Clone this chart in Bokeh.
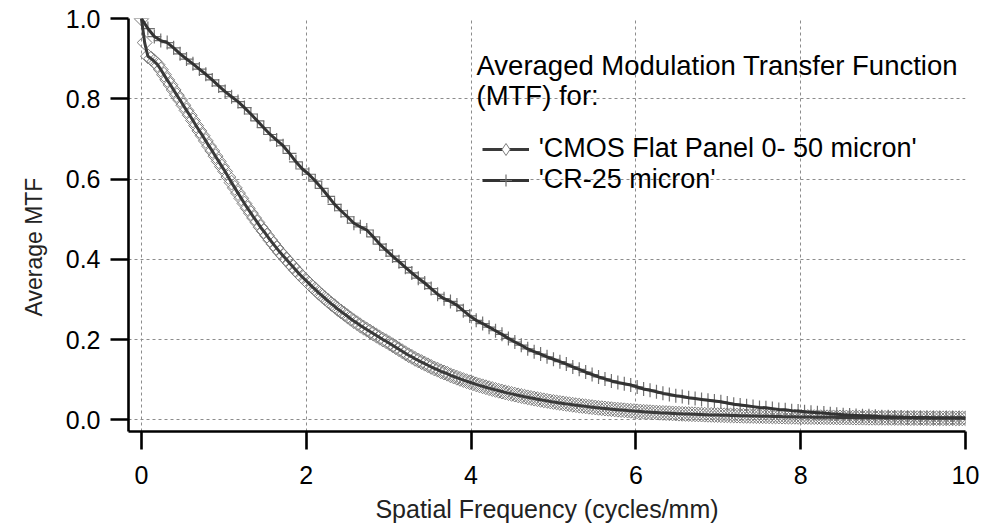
import math
from bokeh.plotting import figure
from bokeh.models import (Range1d, FixedTicker, PrintfTickFormatter, Legend, LegendItem,
                          Label, ColumnDataSource, Title)
from bokeh.embed import file_html
from bokeh.resources import INLINE

# ---------------- data ----------------
cmos_step = 0.0390625   # cycles/mm between samples (CMOS flat panel)
cr_step = 0.078125      # cycles/mm between samples (CR)

cmos_mtf = [
    1.000, 0.940, 0.906, 0.900, 0.893, 0.885, 0.873, 0.860, 0.847, 0.835,
    0.822, 0.809, 0.797, 0.784, 0.771, 0.759, 0.746, 0.733, 0.720, 0.708,
    0.695, 0.682, 0.670, 0.657, 0.644, 0.631, 0.619, 0.605, 0.591, 0.578,
    0.565, 0.552, 0.539, 0.527, 0.515, 0.503, 0.492, 0.480, 0.470, 0.459,
    0.448, 0.438, 0.428, 0.418, 0.409, 0.400, 0.391, 0.382, 0.373, 0.364,
    0.356, 0.348, 0.340, 0.332, 0.325, 0.317, 0.310, 0.303, 0.296, 0.289,
    0.283, 0.276, 0.270, 0.264, 0.258, 0.252, 0.246, 0.241, 0.235, 0.230,
    0.225, 0.220, 0.215, 0.210, 0.205, 0.200, 0.196, 0.191, 0.186, 0.181,
    0.176, 0.171, 0.166, 0.161, 0.157, 0.152, 0.148, 0.144, 0.140, 0.136,
    0.132, 0.128, 0.125, 0.121, 0.118, 0.115, 0.111, 0.108, 0.105, 0.102,
    0.0992, 0.0964, 0.0937, 0.0911, 0.0885, 0.0860, 0.0836, 0.0813, 0.0790, 0.0768,
    0.0746, 0.0725, 0.0705, 0.0685, 0.0666, 0.0647, 0.0629, 0.0611, 0.0594, 0.0577,
    0.0561, 0.0545, 0.0530, 0.0515, 0.0500, 0.0486, 0.0473, 0.0459, 0.0446, 0.0434,
    0.0422, 0.0410, 0.0398, 0.0387, 0.0376, 0.0366, 0.0355, 0.0345, 0.0336, 0.0326,
    0.0317, 0.0308, 0.0300, 0.0291, 0.0283, 0.0275, 0.0267, 0.0260, 0.0253, 0.0246,
    0.0239, 0.0232, 0.0226, 0.0219, 0.0213, 0.0207, 0.0201, 0.0196, 0.0191, 0.0186,
    0.0182, 0.0177, 0.0173, 0.0169, 0.0165, 0.0161, 0.0157, 0.0154, 0.0150, 0.0147,
    0.0144, 0.0141, 0.0138, 0.0135, 0.0132, 0.0129, 0.0126, 0.0124, 0.0121, 0.0119,
    0.0116, 0.0114, 0.0112, 0.0110, 0.0108, 0.0106, 0.0104, 0.0102, 0.0100, 0.0098,
    0.0096, 0.0094, 0.0092, 0.0090, 0.0089, 0.0087, 0.0086, 0.0084, 0.0083, 0.0081,
    0.0080, 0.0078, 0.0077, 0.0076, 0.0074, 0.0073, 0.0072, 0.0071, 0.0069, 0.0068,
    0.0067, 0.0066, 0.0065, 0.0064, 0.0063, 0.0062, 0.0061, 0.0060, 0.0059, 0.0058,
    0.0057, 0.0056, 0.0055, 0.0055, 0.0054, 0.0053, 0.0052, 0.0052, 0.0051, 0.0050,
    0.0050, 0.0049, 0.0048, 0.0048, 0.0047, 0.0047, 0.0046, 0.0045, 0.0045, 0.0044,
    0.0044, 0.0043, 0.0043, 0.0042, 0.0042, 0.0041, 0.0041, 0.0041, 0.0040, 0.0040,
    0.0039, 0.0039, 0.0039, 0.0038, 0.0038, 0.0038, 0.0037,
]

cr_mtf = [
    1.000, 0.975, 0.955, 0.945, 0.940, 0.927, 0.912, 0.899, 0.887, 0.874,
    0.861, 0.847, 0.832, 0.818, 0.805, 0.793, 0.778, 0.762, 0.745, 0.728,
    0.711, 0.697, 0.683, 0.664, 0.643, 0.625, 0.612, 0.595, 0.577, 0.557,
    0.537, 0.521, 0.506, 0.490, 0.481, 0.473, 0.456, 0.438, 0.423, 0.408,
    0.394, 0.380, 0.366, 0.353, 0.341, 0.327, 0.313, 0.302, 0.295, 0.286,
    0.272, 0.259, 0.248, 0.240, 0.231, 0.222, 0.213, 0.203, 0.194, 0.186,
    0.177, 0.170, 0.164, 0.157, 0.151, 0.145, 0.139, 0.132, 0.126, 0.119,
    0.113, 0.107, 0.102, 0.097, 0.093, 0.090, 0.087, 0.082, 0.077, 0.074,
    0.070, 0.066, 0.063, 0.060, 0.058, 0.055, 0.053, 0.051, 0.049, 0.047,
    0.045, 0.042, 0.039, 0.037, 0.035, 0.033, 0.031, 0.030, 0.028, 0.026,
    0.025, 0.023, 0.022, 0.020, 0.019, 0.018, 0.017, 0.015, 0.014, 0.013,
    0.012, 0.011, 0.010, 0.010, 0.009, 0.008, 0.008, 0.007, 0.007, 0.006,
    0.006, 0.006, 0.006, 0.005, 0.005, 0.005, 0.005, 0.005, 0.005,
]

cmos_freq = [i * cmos_step for i in range(len(cmos_mtf))]
cr_freq = [i * cr_step for i in range(len(cr_mtf))]

x_ticks = [0, 2, 4, 6, 8, 10]
y_ticks = [0.0, 0.2, 0.4, 0.6, 0.8, 1.0]

legend_title = ["Averaged Modulation Transfer Function", "(MTF) for:"]
series_labels = ["'CMOS Flat Panel 0- 50 micron'", "'CR-25 micron'"]
x_title = "Spatial Frequency (cycles/mm)"
y_title = "Average MTF"

# ---------------- figure ----------------
FONT = "Liberation Sans"
L, R, T, B = 128, 19, 18, 93

p = figure(width=984, height=525, output_backend="svg", toolbar_location=None,
           x_range=Range1d(-0.157, 10.0), y_range=Range1d(-0.029, 1.0),
           min_border_left=L, min_border_right=R, min_border_top=T, min_border_bottom=B)
p.outline_line_color = None
p.background_fill_color = "white"
p.border_fill_color = "white"

for ax in (p.xaxis[0], p.yaxis[0]):
    ax.axis_line_width = 2.6
    ax.axis_line_color = "black"
    ax.major_tick_line_width = 2.6
    ax.major_tick_line_color = "black"
    ax.major_tick_out = 18
    ax.major_tick_in = 0
    ax.minor_tick_line_color = None
    ax.major_label_text_font = FONT
    ax.major_label_text_font_size = "25px"
    ax.major_label_text_color = "black"

p.xaxis.ticker = FixedTicker(ticks=x_ticks)
p.yaxis.ticker = FixedTicker(ticks=y_ticks)
p.yaxis.formatter = PrintfTickFormatter(format="%.1f")
p.xaxis.major_label_standoff = 16
p.yaxis.major_label_standoff = 10

p.xaxis.axis_label = x_title
p.xaxis.axis_label_text_font = FONT
p.xaxis.axis_label_text_font_size = "25px"
p.xaxis.axis_label_text_font_style = "normal"
p.xaxis.axis_label_text_color = "#222222"
p.xaxis.axis_label_standoff = 8

for g in (p.xgrid[0], p.ygrid[0]):
    g.grid_line_color = "#8c8c8c"
    g.grid_line_width = 1
    g.grid_line_dash = "3 3"

src_cmos = ColumnDataSource(dict(x=cmos_freq, y=cmos_mtf))
src_cr = ColumnDataSource(dict(x=cr_freq, y=cr_mtf))

cmos_pts = p.scatter("x", "y", source=src_cmos, marker="square", angle=math.pi / 4,
                     size=10.5, fill_alpha=0, line_color="#7c7c7c", line_width=1)
cr_pts = p.scatter("x", "y", source=src_cr, marker="cross", size=14,
                   line_color="#707070", line_width=1.2)
cmos_line = p.line("x", "y", source=src_cmos, line_color="#3a3a3a", line_width=3)
cr_line = p.line("x", "y", source=src_cr, line_color="#333333", line_width=3)

# legend key markers: one off-plot (NaN) point each, so only the legend swatch shows
nan = float("nan")
key_cmos = p.scatter(x=[nan], y=[nan], marker="diamond", fill_color="white",
                     line_color="#7c7c7c", line_width=1)
key_cr = p.scatter(x=[nan], y=[nan], marker="cross", line_color="#707070", line_width=1.2)

legend = Legend(items=[LegendItem(label=series_labels[0], renderers=[cmos_line, key_cmos]),
                       LegendItem(label=series_labels[1], renderers=[cr_line, key_cr])],
                location=(353.7, 236), orientation="vertical",
                border_line_alpha=0, background_fill_alpha=0,
                padding=0, margin=0, spacing=0,
                glyph_width=47, glyph_height=30, label_height=26, label_standoff=10,
                label_text_font=FONT, label_text_font_size="27px", label_text_color="black")
p.add_layout(legend)

H = 525 - B  # frame bottom in canvas pixels
for txt, cy in zip(legend_title, [66, 96]):
    p.add_layout(Label(x=476 - L, y=H - cy, x_units="screen", y_units="screen", text=txt,
                       text_font=FONT, text_font_size="27.5px", text_color="black",
                       text_align="left", text_baseline="middle"))

p.add_layout(Title(text=y_title, align="left", offset=115, text_font=FONT,
                   text_font_size="23px", text_font_style="normal", text_color="#222222",
                   standoff=32), "left")

open("out.html", "w").write(file_html(p, INLINE))
